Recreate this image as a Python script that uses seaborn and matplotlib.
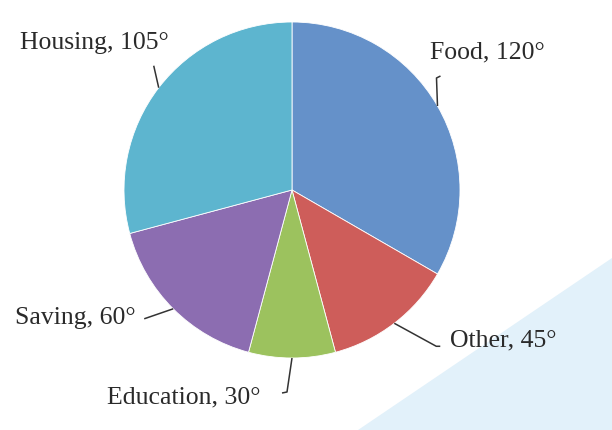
import numpy as np
import pandas as pd
import matplotlib
matplotlib.use("Agg")
import matplotlib.pyplot as plt
import seaborn as sns

# slice data (degrees), clockwise from 12 o'clock
categories = ["Food", "Other", "Education", "Saving", "Housing"]
degrees = [120, 45, 30, 60, 105]
colors = ["#6591C9", "#CE5D5A", "#9CC25E", "#8C6DB1", "#5DB5CF"]

sns.set_style("white")
plt.rcParams['font.family'] = ['Liberation Serif', 'DejaVu Serif']

df = pd.DataFrame({"cat": categories, "deg": degrees})

fig = plt.figure(figsize=(6.12, 4.30), dpi=100)
ax = fig.add_axes([0, 0, 1, 1])

# light blue decoration bottom right
ax.fill([612, 358, 612], [172, 0, 0], color="#E2F1FA", lw=0, zorder=0)

cx, cy, r = 292, 240, 168
wedges, _ = ax.pie(df["deg"], colors=colors, startangle=90, counterclock=False,
                   center=(cx, cy), radius=r, frame=True,
                   wedgeprops=dict(edgecolor="white", linewidth=0.6))
ax.set_xlim(0, 612)
ax.set_ylim(0, 430)
ax.axis("off")

# label layout: text position and leader line bends (offsets from anchor)
label_pos = {
    "Food": ((430, 378), [(-1, 28), (3, 30)]),
    "Other": ((450, 90), [(42, -23), (46, -23)]),
    "Education": ((107, 33), [(-5, -34), (-10, -35)]),
    "Saving": ((15, 112), [(-29, -10)]),
    "Housing": ((20, 387), [(-5, 22)]),
}

for w, cat, d in zip(wedges, categories, degrees):
    mid = np.deg2rad((w.theta1 + w.theta2) / 2)
    ax_x, ax_y = cx + r * np.cos(mid), cy + r * np.sin(mid)
    (tx, ty), bends = label_pos[cat]
    xs = [ax_x] + [ax_x + bx for bx, by in bends]
    ys = [ax_y] + [ax_y + by for bx, by in bends]
    ax.plot(xs, ys, color="#333333", lw=1.1, solid_capstyle="butt")
    ax.text(tx, ty, f"{cat}, {d}°", ha="left", va="center", fontsize=18.5, color="#2a2a2a")

fig.savefig("out.png", dpi=100)
